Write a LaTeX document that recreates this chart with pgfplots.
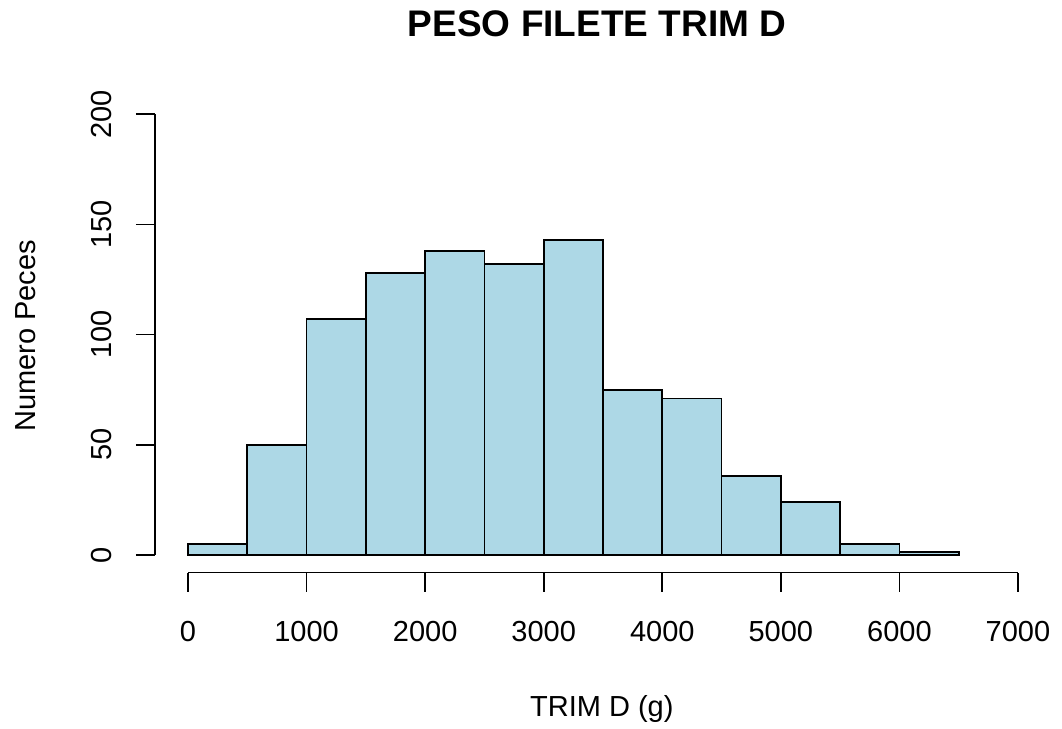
\documentclass[border=0pt]{standalone}
\usepackage{pgfplots}
\pgfplotsset{compat=1.18}
\usepackage{fontspec}
\setmainfont{Liberation Sans}
\definecolor{rlightblue}{RGB}{173,216,230}
\begin{document}
\begin{tikzpicture}
\begin{axis}[
  scale only axis,
  width=448.2pt, height=238pt,
  xmin=-280, xmax=7280, ymin=-8, ymax=208,
  clip=false,
  axis x line*=bottom, axis y line*=left,
  axis line style={draw=none},
  xtick={0,1000,2000,3000,4000,5000,6000,7000},
  ytick={0,50,100,150,200},
  tick align=outside,
  major tick length=9.5pt,
  tick style={black, line width=0.8pt},
  /pgf/number format/assume math mode=true,
  /pgf/number format/1000 sep={},
  ticklabel style={font=\fontsize{14.5}{17}\selectfont},
  yticklabel style={rotate=90, anchor=south},
  xticklabel shift=11.5pt,
  yticklabel shift=8.5pt,
]
\addplot[ybar interval, fill=rlightblue, draw=black, line width=0.9pt] coordinates {
  (0,5) (500,50) (1000,107) (1500,128) (2000,138) (2500,132) (3000,143)
  (3500,75) (4000,71) (4500,36) (5000,24) (5500,5) (6000,1.4) (6500,1.4)
};
\draw[black, line width=0.8pt] (axis cs:0,-8) -- (axis cs:7000,-8);
\draw[black, line width=0.8pt] (axis cs:-280,0) -- (axis cs:-280,200);
\node[anchor=base, font=\bfseries\fontsize{18.5}{22}\selectfont] at (axis cs:3450,235.1) {PESO FILETE TRIM D};
\node[anchor=base, rotate=90, font=\fontsize{14.5}{17}\selectfont] at (axis cs:-1282,99.4) {Numero Peces};
\node[anchor=base, font=\fontsize{14.5}{17}\selectfont] at (axis cs:3490,-73.5) {TRIM D (g)};
\coordinate (bbl) at (axis cs:-1585.6,-78.51);
\coordinate (btr) at (axis cs:7371.2,251.87);
\end{axis}
\pgfresetboundingbox
\useasboundingbox (bbl) rectangle (btr);
\end{tikzpicture}
\end{document}
